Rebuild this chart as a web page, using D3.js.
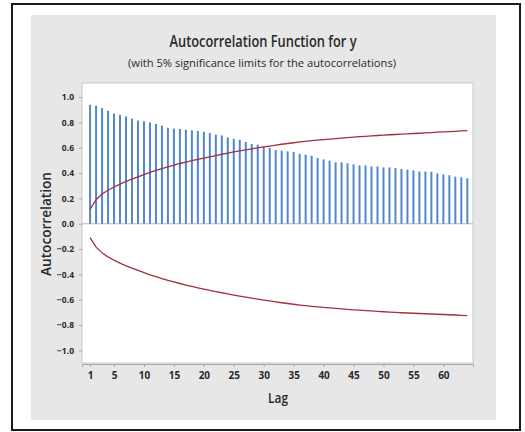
<!DOCTYPE html>
<html>
<head>
<meta charset="utf-8">
<script src="https://cdn.jsdelivr.net/npm/d3@7"></script>
<style>
  html, body { margin: 0; padding: 0; background: #ffffff; }
  svg { display: block; }
  text { font-family: "Open Sans", "DejaVu Sans", sans-serif; fill: #2a2a2a; }
</style>
</head>
<body>
<svg id="chart" width="525" height="432"></svg>
<script>
// ---- data ----
const lags = d3.range(1, 65);
const acf = [0.940, 0.933, 0.915, 0.893, 0.870, 0.860, 0.848, 0.830, 0.816, 0.810,
             0.800, 0.788, 0.775, 0.758, 0.751, 0.749, 0.743, 0.738, 0.733, 0.727,
             0.717, 0.704, 0.698, 0.682, 0.670, 0.664, 0.646, 0.630, 0.625, 0.606,
             0.598, 0.583, 0.577, 0.572, 0.567, 0.553, 0.545, 0.538, 0.519, 0.508,
             0.498, 0.485, 0.485, 0.477, 0.469, 0.461, 0.461, 0.453, 0.453, 0.445,
             0.445, 0.440, 0.432, 0.427, 0.421, 0.413, 0.413, 0.411, 0.398, 0.390,
             0.383, 0.372, 0.367, 0.359];
const upperLimit = [0.115, 0.190, 0.235, 0.265, 0.290, 0.313, 0.334, 0.353, 0.370, 0.388,
                    0.406, 0.421, 0.436, 0.450, 0.463, 0.476, 0.487, 0.498, 0.509, 0.519,
                    0.529, 0.539, 0.549, 0.558, 0.567, 0.576, 0.584, 0.592, 0.600, 0.607,
                    0.614, 0.621, 0.628, 0.634, 0.640, 0.646, 0.651, 0.656, 0.661, 0.665,
                    0.669, 0.673, 0.677, 0.681, 0.685, 0.688, 0.691, 0.694, 0.697, 0.700,
                    0.703, 0.705, 0.708, 0.710, 0.713, 0.715, 0.718, 0.720, 0.723, 0.725,
                    0.728, 0.730, 0.733, 0.736];
const lowerLimit = [-0.110, -0.185, -0.230, -0.262, -0.288, -0.311, -0.332, -0.351, -0.368, -0.386,
                    -0.403, -0.418, -0.433, -0.447, -0.460, -0.472, -0.484, -0.495, -0.506, -0.516,
                    -0.526, -0.536, -0.545, -0.554, -0.563, -0.572, -0.580, -0.588, -0.596, -0.603,
                    -0.610, -0.617, -0.624, -0.630, -0.636, -0.642, -0.647, -0.652, -0.657, -0.661,
                    -0.665, -0.669, -0.673, -0.677, -0.680, -0.683, -0.686, -0.689, -0.692, -0.695,
                    -0.698, -0.700, -0.703, -0.705, -0.707, -0.709, -0.711, -0.713, -0.715, -0.717,
                    -0.719, -0.721, -0.723, -0.725];
const xTicks = [1, 5, 10, 15, 20, 25, 30, 35, 40, 45, 50, 55, 60];
const yTicks = [-1.0, -0.8, -0.6, -0.4, -0.2, 0.0, 0.2, 0.4, 0.6, 0.8, 1.0];
const titleText = "Autocorrelation Function for y";
const subtitleText = "(with 5% significance limits for the autocorrelations)";
const xLabel = "Lag";
const yLabel = "Autocorrelation";

// ---- layout ----
const svg = d3.select("#chart");
const plot = { left: 82, right: 473, top: 83, bottom: 363 };
const tickFont = "'DejaVu Sans Condensed', 'Liberation Sans Narrow', 'Open Sans', sans-serif";

// outer frame
svg.append("rect").attr("x", 12).attr("y", 4).attr("width", 508).attr("height", 426)
  .attr("fill", "#ffffff").attr("stroke", "#1a1a1a").attr("stroke-width", 2);
// grey panel
svg.append("rect").attr("x", 31).attr("y", 15).attr("width", 465).attr("height", 405)
  .attr("fill", "#e7e7e7");
// plot area
svg.append("rect").attr("x", plot.left).attr("y", plot.top)
  .attr("width", plot.right - plot.left).attr("height", plot.bottom - plot.top)
  .attr("fill", "#ffffff").attr("stroke", "#c9c9c9").attr("stroke-width", 1);

const x = d3.scaleLinear().domain([-0.35, 64.95]).range([plot.left, plot.right]);
const y = d3.scaleLinear().domain([-1.1, 1.1]).range([plot.bottom, plot.top + 1.5]);

// zero reference line
svg.append("line").attr("x1", plot.left).attr("x2", plot.right)
  .attr("y1", y(0)).attr("y2", y(0)).attr("stroke", "#b9b9b9").attr("stroke-width", 1);

// bars
svg.append("g").selectAll("line").data(lags).join("line")
  .attr("x1", d => x(d)).attr("x2", d => x(d))
  .attr("y1", y(0)).attr("y2", (d, i) => y(acf[i]))
  .attr("stroke", "#5288c8").attr("stroke-width", 2);

// significance limits
const line = d3.line().x(d => x(d[0])).y(d => y(d[1]));
[upperLimit, lowerLimit].forEach(arr => {
  svg.append("path").datum(lags.map((l, i) => [l, arr[i]]))
    .attr("d", line).attr("fill", "none")
    .attr("stroke", "#a3303d").attr("stroke-width", 1.3);
});

// axes
const xAxis = d3.axisBottom(x).tickValues(xTicks).tickSize(3).tickPadding(5)
  .tickFormat(d3.format("d"));
const gx = svg.append("g").attr("transform", `translate(0,${plot.bottom + 1})`).call(xAxis);
gx.select(".domain").attr("stroke", "#a9a9a9");
gx.selectAll(".tick line").attr("stroke", "#a9a9a9");
gx.selectAll("text").attr("font-size", 10).attr("font-weight", "bold").attr("fill", "#333")
  .attr("font-family", tickFont);

const yAxis = d3.axisLeft(y).tickValues(yTicks).tickSize(3).tickPadding(5)
  .tickFormat(d3.format(".1f"));
const gy = svg.append("g").attr("transform", `translate(${plot.left},0)`).call(yAxis);
gy.select(".domain").remove();
gy.selectAll(".tick line").attr("stroke", "#a9a9a9");
gy.selectAll("text").attr("font-size", 8.5).attr("font-weight", "bold").attr("fill", "#333")
  .attr("font-family", tickFont);

// titles
svg.append("text").attr("x", 263).attr("y", 47).attr("text-anchor", "middle")
  .attr("font-size", 15.5).attr("font-weight", 600).attr("fill", "#222")
  .attr("textLength", 187).attr("lengthAdjust", "spacingAndGlyphs")
  .text(titleText);
svg.append("text").attr("x", 262).attr("y", 67).attr("text-anchor", "middle")
  .attr("font-size", 11.5).attr("fill", "#222")
  .attr("textLength", 268).attr("lengthAdjust", "spacingAndGlyphs")
  .text(subtitleText);

// axis labels
svg.append("text").attr("x", 278).attr("y", 403).attr("text-anchor", "middle")
  .attr("font-size", 15).attr("font-weight", 600).attr("fill", "#222")
  .attr("textLength", 20).attr("lengthAdjust", "spacingAndGlyphs")
  .text(xLabel);
svg.append("text").attr("transform", "translate(51,224) rotate(-90)")
  .attr("text-anchor", "middle").attr("font-size", 14).attr("font-weight", 600).attr("fill", "#222")
  .attr("textLength", 104).attr("lengthAdjust", "spacingAndGlyphs")
  .text(yLabel);
</script>
</body>
</html>
